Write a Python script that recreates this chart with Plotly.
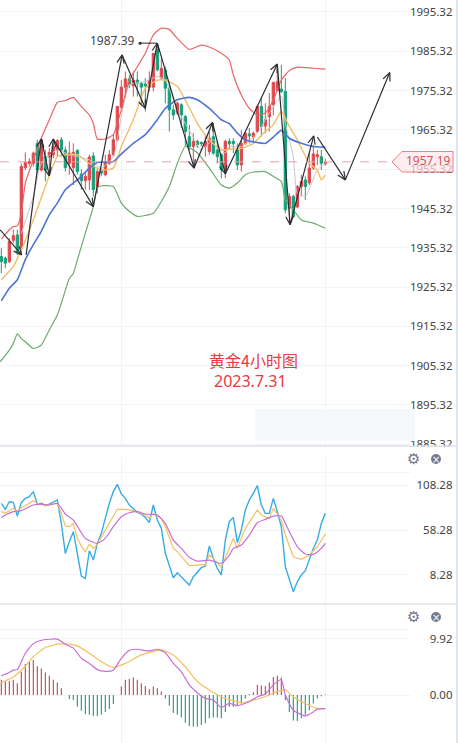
"""Gold 4h chart with BOLL/MA overlay, KDJ and MACD panes."""

import math

import plotly.graph_objects as go
from plotly.subplots import make_subplots

WIDTH = 458
HEIGHT = 743

# candles, oldest first
opens = [1933.1, 1932.7, 1931.8, 1937.2, 1938.6, 1935.2, 1955.7, 1956.8, 1956.8, 1961.9,
         1955.1, 1958.5, 1958.4, 1959.0, 1960.2, 1962.8, 1960.2, 1956.8, 1955.7, 1960.1,
         1954.1, 1952.4, 1952.6, 1958.7, 1950.9, 1955.1, 1953.9, 1956.8, 1959.0, 1962.8,
         1971.1, 1976.2, 1978.3, 1976.5, 1978.0, 1977.2, 1977.0, 1976.2, 1976.2, 1985.7,
         1978.5, 1980.6, 1975.9, 1970.4, 1969.6, 1971.7, 1968.7, 1963.6, 1961.1, 1962.4,
         1962.1, 1961.1, 1959.8, 1963.6, 1960.2, 1959.0, 1955.1, 1962.4, 1962.4, 1960.2,
         1956.4, 1961.9, 1964.3, 1963.5, 1964.9, 1971.3, 1966.3, 1968.7, 1971.7, 1975.3,
         1975.7, 1975.1, 1945.4, 1948.4, 1945.7, 1950.9, 1952.6, 1951.8, 1955.6, 1958.5,
         1958.5, 1956.7]
highs = [1935.2, 1933.1, 1937.8, 1939.9, 1939.9, 1956.8, 1959.6, 1958.1, 1959.8, 1962.8,
         1963.2, 1960.2, 1960.7, 1961.9, 1962.9, 1963.5, 1961.1, 1962.4, 1961.9, 1960.4,
         1955.3, 1954.7, 1959.0, 1959.6, 1955.6, 1955.6, 1959.0, 1960.2, 1964.1, 1971.3,
         1978.0, 1980.2, 1979.3, 1980.2, 1980.2, 1977.6, 1978.5, 1980.2, 1984.8, 1987.4,
         1983.6, 1981.4, 1977.6, 1971.7, 1972.5, 1972.1, 1969.1, 1966.6, 1964.5, 1962.8,
         1962.4, 1964.1, 1964.9, 1967.0, 1961.9, 1959.4, 1962.8, 1963.2, 1963.2, 1961.9,
         1965.3, 1964.9, 1965.8, 1964.9, 1971.7, 1973.4, 1972.1, 1974.7, 1977.6, 1981.9,
         1981.9, 1978.5, 1949.2, 1948.8, 1951.3, 1953.9, 1953.5, 1959.4, 1961.5, 1960.2,
         1960.2, 1957.9]
lows = [1928.8, 1930.1, 1931.4, 1936.5, 1933.5, 1933.9, 1955.1, 1956.0, 1956.0, 1954.3,
        1954.7, 1952.2, 1954.3, 1958.1, 1958.5, 1958.5, 1954.7, 1953.9, 1951.3, 1953.9,
        1950.1, 1950.1, 1950.1, 1948.4, 1949.2, 1953.5, 1953.5, 1956.4, 1958.5, 1962.4,
        1970.4, 1973.4, 1975.9, 1973.8, 1973.8, 1971.7, 1970.0, 1975.1, 1975.1, 1980.2,
        1978.0, 1972.1, 1964.9, 1967.9, 1969.1, 1965.8, 1961.1, 1960.2, 1955.6, 1960.7,
        1961.1, 1958.5, 1959.0, 1959.0, 1956.8, 1953.0, 1953.0, 1960.2, 1959.4, 1955.1,
        1954.7, 1961.5, 1961.9, 1962.4, 1964.5, 1963.6, 1964.5, 1964.9, 1969.1, 1975.1,
        1974.7, 1944.1, 1941.6, 1942.9, 1945.4, 1948.4, 1947.5, 1951.3, 1955.1, 1956.4,
        1955.1, 1956.2]
closes = [1931.8, 1931.4, 1936.9, 1938.4, 1934.0, 1956.0, 1957.0, 1957.3, 1959.4, 1955.1,
          1962.8, 1955.1, 1959.6, 1961.1, 1962.6, 1960.2, 1955.7, 1959.4, 1959.6, 1954.7,
          1952.4, 1953.5, 1958.4, 1950.1, 1954.7, 1954.3, 1957.0, 1959.0, 1962.8, 1971.3,
          1976.2, 1978.3, 1976.8, 1978.0, 1977.2, 1976.2, 1976.5, 1978.0, 1984.8, 1980.6,
          1981.0, 1975.9, 1970.4, 1969.1, 1972.1, 1969.1, 1964.9, 1961.1, 1962.4, 1961.5,
          1961.8, 1962.4, 1963.2, 1959.4, 1958.5, 1955.1, 1962.4, 1961.8, 1961.8, 1956.4,
          1961.9, 1964.5, 1963.8, 1964.5, 1971.3, 1966.2, 1967.9, 1971.3, 1977.4, 1977.6,
          1975.1, 1945.0, 1948.4, 1943.3, 1950.9, 1952.2, 1950.9, 1955.6, 1959.2, 1959.0,
          1956.8, 1957.1]

# BOLL bands
boll_up_x = [0, 2, 3, 4, 5, 6, 8, 10, 12, 14, 16, 18, 20, 22, 23, 24, 26, 28, 29, 30, 32, 34,
             36, 38, 40, 42, 44, 47, 50, 52, 55, 57, 58, 60, 62, 64, 66, 68, 70, 72, 74, 78, 81]
boll_up = [1937.5, 1939.9, 1940.7, 1940.9, 1944.1, 1951.8, 1957.7, 1963.2, 1967.9, 1972.3,
           1972.8, 1973.6, 1971.3, 1969.1, 1967.0, 1963.0, 1963.0, 1964.1, 1967.0, 1970.4,
           1978.0, 1981.4, 1984.8, 1989.5, 1991.2, 1990.9, 1988.6, 1985.8, 1986.9, 1986.4,
           1984.8, 1983.1, 1979.3, 1974.2, 1970.8, 1969.1, 1969.6, 1972.9, 1978.0, 1980.4,
           1981.3, 1981.0, 1980.8]
boll_mid_x = [0, 2, 4, 6, 8, 10, 12, 14, 16, 18, 20, 22, 24, 28, 30, 33, 36, 39, 41, 44, 47,
              49, 52, 55, 57, 59, 61, 64, 66, 68, 70, 72, 75, 78, 81]
boll_mid = [1921.8, 1925.0, 1927.2, 1932.3, 1936.1, 1939.5, 1943.7, 1946.7, 1950.1, 1951.8,
            1953.5, 1955.6, 1957.0, 1957.3, 1959.2, 1961.9, 1964.1, 1967.9, 1970.8, 1973.0,
            1973.6, 1973.0, 1970.8, 1967.9, 1966.9, 1964.5, 1962.8, 1962.1, 1961.9, 1963.5,
            1965.2, 1963.2, 1961.9, 1961.1, 1960.9]
boll_low_x = [-0.3, 2, 3, 4, 5, 6, 8, 10, 12, 14, 15, 17, 18, 19, 20, 21, 23, 24, 25, 28, 30,
              32, 34, 38, 40, 42, 44, 46, 49, 52, 55, 57, 59, 61, 63, 66, 68, 70, 71, 73, 75,
              78, 81]
boll_low = [1906.3, 1909.3, 1911.0, 1913.4, 1912.2, 1911.4, 1909.7, 1910.6, 1914.4, 1918.2,
            1921.2, 1927.5, 1928.8, 1932.2, 1935.6, 1939.0, 1945.8, 1950.5, 1951.1, 1950.9,
            1946.7, 1944.6, 1943.3, 1944.1, 1947.1, 1950.9, 1956.8, 1961.1, 1959.5, 1955.6,
            1951.3, 1950.5, 1951.8, 1953.9, 1954.6, 1954.7, 1953.5, 1952.2, 1947.5, 1945.0,
            1942.4, 1941.6, 1940.3]

# moving averages
ma_slow_x = [0, 3, 5, 8, 11, 14, 16, 19, 22, 25, 28, 30, 33, 36, 39, 41, 44, 46, 49, 52, 55,
             57, 60, 63, 66, 68, 70, 72, 74, 77, 79, 80, 81]
ma_slow = [1927.2, 1930.5, 1934.8, 1942.4, 1950.9, 1958.5, 1959.0, 1959.0, 1956.8, 1955.1,
           1955.6, 1961.1, 1967.9, 1975.9, 1978.0, 1978.0, 1976.4, 1972.9, 1967.0, 1962.8,
           1960.2, 1960.4, 1960.6, 1961.9, 1964.9, 1966.6, 1970.0, 1966.2, 1962.8, 1956.8,
           1955.1, 1952.6, 1953.9]
ma_fast_x = [5, 8, 10, 14, 17, 22, 25, 28, 30, 32, 36, 39, 41, 44, 47, 50, 53, 56, 57, 60, 64,
             67, 70, 71, 73, 74, 76, 79, 81]
ma_fast = [1939.0, 1948.4, 1956.8, 1960.2, 1959.0, 1957.7, 1955.6, 1958.5, 1968.7, 1976.8,
           1977.6, 1978.9, 1978.0, 1970.4, 1965.3, 1960.2, 1962.8, 1959.4, 1961.1, 1961.1,
           1964.5, 1969.6, 1973.8, 1967.0, 1958.5, 1949.2, 1948.4, 1955.1, 1956.8]

# hand drawn wave arrows, candle index and price
wave_a_x = [-0.3, 5.1]
wave_a_y = [1939.9, 1933.5]
wave_b_x = [6.2, 10, 12, 13, 23, 30.2, 36, 39, 48.2, 52.8, 56, 69, 72.2, 78.1]
wave_b_y = [1933.5, 1963.0, 1953.6, 1963.0, 1945.8, 1984.4, 1970.8, 1987.4, 1955.6, 1967.2,
            1954.1, 1982.1, 1941.2, 1963.8]
wave_c_x = [79, 86, 97.1]
wave_c_y = [1963.5, 1952.6, 1979.9]

last_price = 1957.19
high_price = 1987.39
price_ticks = [1995.32, 1985.32, 1975.32, 1965.32, 1955.32, 1945.32, 1935.32, 1925.32,
               1915.32, 1905.32, 1895.32, 1885.32]

# KDJ
kdj_k = [88.2, 81.5, 90.0, 89.3, 74.0, 88.9, 93.7, 95.6, 101.2, 87.4, 88.2, 85.6, 87.4, 89.3,
         91.9, 65.8, 32.4, 45.4, 56.5, 32.4, 7.1, 4.5, 35.3, 24.9, 43.5, 54.7, 71.4, 88.2,
         101.2, 109.4, 98.6, 93.7, 86.3, 82.6, 78.1, 76.3, 72.5, 66.6, 86.3, 69.6, 60.3, 32.4,
         17.5, 5.2, 10.8, 6.3, 0.7, -3.0, 6.3, 10.8, 16.4, 18.2, 40.5, 26.8, 15.6, 8.2, 47.2,
         67.7, 72.5, 44.3, 58.4, 80.7, 91.9, 99.3, 107.9, 86.3, 77.0, 77.0, 93.7, 78.8, 62.1,
         17.5, 2.6, -10.4, 0.7, 8.2, 13.0, 24.9, 37.9, 47.2, 65.8, 77.0]
kdj_d_x = [0, 1, 2, 3, 4, 5, 7, 8, 9, 11, 14, 15, 16, 17, 18, 19, 20, 21, 22, 23, 24, 26, 28,
           29, 31, 33, 36, 37, 38, 40, 41, 43, 44, 46, 47, 49, 51, 52, 53, 55, 57, 58, 59, 61,
           64, 65, 67, 68, 70, 71, 73, 75, 77, 79, 81]
kdj_d = [78.9, 77.0, 80.0, 82.6, 78.9, 83.3, 88.2, 91.1, 88.2, 85.6, 88.2, 77.0, 62.9, 62.1,
         65.8, 49.1, 40.5, 34.2, 42.8, 37.9, 42.8, 58.4, 75.1, 81.5, 81.5, 80.0, 75.1, 71.4,
         77.0, 71.4, 62.1, 37.9, 34.2, 23.1, 18.6, 19.3, 20.1, 30.5, 26.8, 16.7, 39.8, 49.1,
         37.9, 60.3, 80.7, 75.1, 71.4, 82.6, 69.6, 52.8, 28.6, 25.7, 30.5, 39.8, 53.9]
kdj_j_x = [0, 1, 3, 5, 8, 10, 12, 14, 16, 18, 21, 24, 26, 28, 30, 32, 34, 36, 39, 41, 43, 45,
           47, 49, 52, 55, 57, 58, 60, 62, 64, 66, 68, 70, 72, 74, 76, 78, 80, 81]
kdj_j = [72.5, 75.1, 78.9, 80.0, 86.3, 87.4, 86.3, 88.2, 76.3, 69.6, 49.1, 43.5, 49.1, 62.1,
         73.3, 77.7, 78.9, 76.3, 75.1, 65.8, 47.2, 37.9, 27.9, 23.8, 24.9, 21.2, 30.5, 37.9,
         41.7, 52.8, 66.6, 70.3, 74.0, 74.0, 56.5, 39.8, 31.6, 31.2, 37.9, 43.5]
kdj_ticks = [108.28, 58.28, 8.28]
kdj_top_line = 123.1

# MACD
macd_hist = [2.7, 2.4, 2.5, 2.7, 2.1, 4.1, 5.5, 5.9, 6.2, 5.1, 4.7, 4.0, 3.4, 2.7, 2.2, 1.2, 0,
             -0.7, -0.9, -2.1, -2.8, -3.4, -3.5, -3.7, -3.7, -3.5, -3.0, -2.5, -1.6, 0, 1.5,
             2.7, 2.9, 3.1, 2.7, 2.1, 1.6, 1.0, 1.5, 1.2, 0.6, -0.6, -1.9, -3.2, -3.5, -4.0,
             -4.9, -5.5, -5.6, -5.6, -5.3, -5.0, -4.1, -4.0, -4.0, -4.1, -3.0, -2.1, -2.1,
             -1.8, -1.5, -0.6, 0.2, 0.5, 1.8, 1.7, 1.6, 2.2, 3.2, 3.4, 3.1, -0.9, -3.0, -4.5,
             -4.6, -4.1, -3.5, -2.7, -1.5, -0.6, -0.2, 0.1]
macd_dif_x = [0, 2, 3, 4, 6, 8, 10, 14, 16, 18, 20, 22, 24, 26, 28, 30, 32, 34, 37, 39, 41, 43,
              45, 47, 49, 51, 53, 55, 57, 59, 62, 64, 66, 68, 70, 71, 73, 76, 78, 79, 81]
macd_dif = [3.4, 4.0, 4.4, 4.5, 7.4, 9.1, 9.7, 9.9, 9.0, 8.3, 6.5, 5.6, 4.5, 4.2, 4.4, 6.5,
            7.9, 8.1, 7.8, 8.1, 7.5, 5.6, 4.1, 1.8, 0.4, -0.6, -0.9, -2.2, -1.5, -1.9, -1.2,
            -0.3, 0.2, 1.8, 2.7, 0.0, -2.7, -3.7, -3.0, -2.5, -2.4]
macd_dea_x = [0, 3, 6, 8, 11, 14, 17, 19, 22, 25, 28, 31, 35, 40, 43, 46, 49, 52, 55, 57, 60,
              63, 66, 69, 71, 73, 76, 79, 81]
macd_dea = [2.2, 3.2, 5.1, 6.8, 8.4, 9.0, 9.0, 8.7, 7.4, 5.9, 4.9, 5.6, 7.1, 8.0, 7.1, 5.0,
            2.4, 0.9, -0.3, -0.8, -1.4, -0.9, -0.3, 0.6, 0.9, -0.3, -1.5, -2.4, -2.4]
macd_ticks = [9.92, 0.00]
macd_top_line = 11.64

COLORS = {
    "up": "#e0484c",
    "down": "#17a07a",
    "boll_up": "#e4676a",
    "boll_mid": "#4f74d2",
    "boll_low": "#6cab6e",
    "ma_slow": "#f3bd68",
    "ma_fast": "#cfc3c3",
    "wave": "#2c2c34",
    "kdj_k": "#35ade3",
    "kdj_d": "#f5bf62",
    "kdj_j": "#c76fd6",
    "hist_up": "#b9474b",
    "hist_down": "#169a80",
    "grid": "#f1f3f7",
    "tick": "#7a7d88",
    "divider": "#dfe1e7",
    "red_text": "#e8393f",
}

X_RANGE = [-0.33, 102.17]
# stretched below the divider so the lowest label gets cut by it
PRICE_RANGE = [1882.34, 1998.37]
PX_PER_X = 4.0
PX_PER_PRICE = 3.93


def px_x(px):
    return px / WIDTH


def px_y(px):
    return 1 - px / HEIGHT


def arrow_barbs(x_vals, y_vals, size=9, spread=0.42):
    """V shaped heads for every leg of a wave, measured in screen pixels."""
    bx, by = [], []
    for x0, y0, x1, y1 in zip(x_vals, y_vals, x_vals[1:], y_vals[1:]):
        angle = math.atan2((y1 - y0) * PX_PER_PRICE, (x1 - x0) * PX_PER_X)
        for side in (-spread, spread):
            bx += [x1 - size * math.cos(angle + side) / PX_PER_X, x1, None]
            by += [y1 - size * math.sin(angle + side) / PX_PER_PRICE, y1, None]
    return bx, by


def hist_stems(values, positive):
    """Vertical sticks from zero for the bars of one sign."""
    sx, sy = [], []
    for i, v in enumerate(values):
        if (v > 0) == positive and v != 0:
            sx += [i, i, None]
            sy += [0, v, None]
    return sx, sy


def add_line(fig, x, y, color, row, width=1.2, spline=True):
    fig.add_trace(
        go.Scatter(
            x=x,
            y=y,
            mode="lines",
            line=dict(color=color, width=width, shape="spline" if spline else "linear",
                      smoothing=0.5),
            hoverinfo="skip",
            showlegend=False,
        ),
        row=row, col=1,
    )


def add_wave(fig, x, y):
    add_line(fig, x, y, COLORS["wave"], 1, width=1.2, spline=False)
    bx, by = arrow_barbs(x, y)
    add_line(fig, bx, by, COLORS["wave"], 1, width=1.2, spline=False)


def add_text(fig, text, px, py, font, xanchor="center"):
    fig.add_annotation(
        text=text, xref="paper", yref="paper", x=px_x(px), y=px_y(py),
        xanchor=xanchor, yanchor="middle", showarrow=False, font=font,
    )


def add_pane_buttons(fig, py):
    add_text(fig, "⚙", 413, py, dict(family="DejaVu Sans", size=15, color="#6f7686"))
    fig.add_shape(
        type="circle", xref="paper", yref="paper", layer="above",
        x0=px_x(431), x1=px_x(441), y0=px_y(py + 5), y1=px_y(py - 5),
        fillcolor="#727a90", line_width=0,
    )
    add_text(fig, "×", 436, py, dict(family="DejaVu Sans", size=10, color="#ffffff"))


candle_x = list(range(len(closes)))

fig = make_subplots(rows=3, cols=1, shared_xaxes=True)

# Price pane
fig.add_trace(
    go.Candlestick(
        x=candle_x,
        open=opens,
        high=highs,
        low=lows,
        close=closes,
        increasing=dict(line=dict(color=COLORS["up"], width=1), fillcolor=COLORS["up"]),
        decreasing=dict(line=dict(color=COLORS["down"], width=1), fillcolor=COLORS["down"]),
        hoverinfo="skip",
        showlegend=False,
    ),
    row=1, col=1,
)
add_line(fig, ma_fast_x, ma_fast, COLORS["ma_fast"], 1, width=1.0)
add_line(fig, ma_slow_x, ma_slow, COLORS["ma_slow"], 1, width=1.4)
add_line(fig, boll_up_x, boll_up, COLORS["boll_up"], 1)
add_line(fig, boll_low_x, boll_low, COLORS["boll_low"], 1)
add_line(fig, boll_mid_x, boll_mid, COLORS["boll_mid"], 1, width=1.6)
add_wave(fig, wave_a_x, wave_a_y)
add_wave(fig, wave_b_x, wave_b_y)
add_wave(fig, wave_c_x, wave_c_y)

# leader of the swing high label
fig.add_trace(
    go.Scatter(
        x=[34.7, 38.9],
        y=[high_price, high_price],
        mode="lines",
        line=dict(color="#2c2c34", width=1),
        hoverinfo="skip",
        showlegend=False,
    ),
    row=1, col=1,
)
fig.add_trace(
    go.Scatter(
        x=[34.7],
        y=[high_price],
        mode="markers",
        marker=dict(color="#2c2c34", size=3),
        hoverinfo="skip",
        showlegend=False,
    ),
    row=1, col=1,
)

# KDJ pane
add_line(fig, candle_x, kdj_k, COLORS["kdj_k"], 2, width=1.4, spline=False)
add_line(fig, kdj_d_x, kdj_d, COLORS["kdj_d"], 2, spline=False)
add_line(fig, kdj_j_x, kdj_j, COLORS["kdj_j"], 2)

# MACD pane, thin plotly bars render wrong so the histogram is drawn as sticks
up_x, up_y = hist_stems(macd_hist, True)
down_x, down_y = hist_stems(macd_hist, False)
add_line(fig, up_x, up_y, COLORS["hist_up"], 3, width=1.1, spline=False)
add_line(fig, down_x, down_y, COLORS["hist_down"], 3, width=1.1, spline=False)
add_line(fig, macd_dea_x, macd_dea, COLORS["kdj_d"], 3)
add_line(fig, macd_dif_x, macd_dif, COLORS["kdj_j"], 3)

fig.update_layout(
    width=WIDTH,
    height=HEIGHT,
    autosize=False,
    margin=dict(l=0, r=0, t=0, b=0),
    paper_bgcolor="#ffffff",
    plot_bgcolor="#ffffff",
    showlegend=False,
    font=dict(family="Noto Sans, sans-serif", size=11.5, color=COLORS["tick"]),
    boxgap=0.25,
    boxgroupgap=0.25,
)

fig.update_xaxes(
    domain=[0, px_x(410)],
    range=X_RANGE,
    tickmode="array",
    tickvals=[30, 81],
    showticklabels=False,
    ticks="",
    showgrid=True,
    gridcolor=COLORS["grid"],
    gridwidth=1,
    zeroline=False,
    showline=False,
    rangeslider_visible=False,
)

AXIS_STYLE = dict(
    anchor="free",
    position=px_x(455.5),
    side="right",
    ticklabelposition="inside",
    ticks="",
    showgrid=True,
    gridcolor=COLORS["grid"],
    gridwidth=1,
    zeroline=False,
    showline=False,
    tickmode="array",
)

fig.update_yaxes(
    domain=[px_y(456), 1],
    range=PRICE_RANGE,
    tickvals=price_ticks,
    ticktext=[f"{v:.2f}" for v in price_ticks],
    row=1, col=1,
    **AXIS_STYLE,
)
fig.update_yaxes(
    domain=[px_y(604), px_y(447)],
    range=[-24.1, 151.0],
    tickvals=[kdj_top_line] + kdj_ticks,
    ticktext=[""] + [f"{v:.2f}" for v in kdj_ticks],
    row=2, col=1,
    **AXIS_STYLE,
)
fig.update_yaxes(
    domain=[0, px_y(605)],
    range=[-8.5, 15.94],
    tickvals=[macd_top_line] + macd_ticks,
    ticktext=[""] + [f"{v:.2f}" for v in macd_ticks],
    row=3, col=1,
    **AXIS_STYLE,
)

# last price line and flag
fig.add_shape(
    type="line", xref="x", yref="y", x0=X_RANGE[0], x1=97.4, y0=last_price, y1=last_price,
    line=dict(color="#e3a3a6", width=1, dash="dash"), layer="above",
)
flag_path = "M {} {} L {} {} L {} {} L {} {} L {} {} Z".format(
    px_x(392), px_y(162),
    px_x(402), px_y(151.5),
    px_x(453), px_y(151.5),
    px_x(453), px_y(172),
    px_x(402), px_y(172),
)
fig.add_shape(
    type="path", xref="paper", yref="paper", path=flag_path, layer="above",
    fillcolor="rgba(253,232,233,0.72)", line=dict(color="#ee7f87", width=1),
)
add_text(fig, f"{last_price:.2f}", 428, 161, dict(size=12, color="#d9505c"))

# washed out patch near the bottom of the price pane
fig.add_shape(
    type="rect", xref="paper", yref="paper", layer="above",
    x0=px_x(255), x1=px_x(415), y0=px_y(441), y1=px_y(409),
    fillcolor="#f7f8fa", line_width=0,
)

# pane dividers, they also clip the lowest price label
fig.add_shape(
    type="rect", xref="paper", yref="paper", layer="above",
    x0=0, x1=px_x(456), y0=px_y(457), y1=px_y(447),
    fillcolor="#ffffff", line_width=0,
)
for py in (446, 604):
    fig.add_shape(
        type="line", xref="paper", yref="paper", layer="above",
        x0=0, x1=px_x(456), y0=px_y(py), y1=px_y(py),
        line=dict(color=COLORS["divider"], width=1.5),
    )
fig.add_shape(
    type="rect", xref="paper", yref="paper", layer="above",
    x0=px_x(456), x1=1, y0=0, y1=1,
    fillcolor="#dfe6f1", line_width=0,
)

add_pane_buttons(fig, 459)
add_pane_buttons(fig, 617)

add_text(fig, f"{high_price:.2f}", 137, 40, dict(size=12, color="#45464d"), xanchor="right")
add_text(fig, "黄金4小时图", 254, 360,
         dict(family="Noto Sans CJK SC", size=16, color=COLORS["red_text"]))
add_text(fig, "2023.7.31", 250, 381, dict(family="Noto Sans", size=16, color=COLORS["red_text"]))

# the page's default body margin would push the figure out of the window
fig.write_html(
    "out.html",
    config={"displayModeBar": False},
    post_script="document.body.style.margin='0';document.body.style.overflow='hidden';",
)
